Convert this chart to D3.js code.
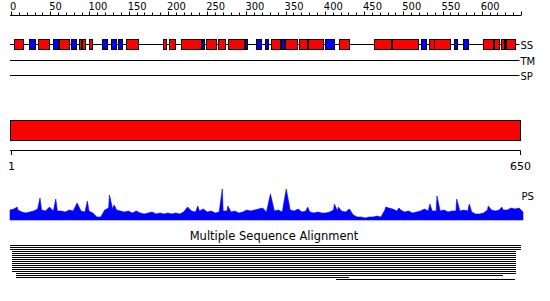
<!DOCTYPE html>
<html>
<head>
<meta charset="utf-8">
<script src="https://cdn.jsdelivr.net/npm/d3@7"></script>
<style>
body { margin: 0; background: #fff; }
svg { display: block; }
.axtxt { font-family: "Liberation Sans Narrow", "DejaVu Sans Condensed", sans-serif; font-size: 11px; }
.lbl { font-family: "DejaVu Sans", sans-serif; font-size: 10px; }
</style>
</head>
<body>
<div class="chart"></div>
<script>
const width = 550;
const height = 301;
const seqLength = 650;

// secondary structure elements: [start, end, type] H = helix, E = strand
const ssElements = [
	[4,16,"H"],[23,31,"E"],[34,48,"H"],[54,60,"E"],[61,74,"H"],[76,82,"E"],
	[87,90,"H"],[90,94,"H"],[100,104,"H"],[116,123,"E"],[127,133,"E"],[136,141,"E"],
	[147,162,"H"],[194,198,"H"],[202,210,"H"],[217,243,"H"],[243,245,"E"],
	[248,261,"H"],[264,273,"H"],[277,298,"H"],[298,300,"E"],[312,318,"E"],
	[324,328,"E"],[332,344,"H"],[344,348,"E"],[349,364,"H"],[367,377,"H"],
	[379,398,"H"],[400,412,"E"],[418,431,"H"],[463,485,"H"],[485,518,"H"],
	[522,528,"E"],[533,539,"H"],[539,560,"H"],[565,569,"E"],[576,583,"E"],
	[601,614,"H"],[616,622,"H"],[625,629,"H"],[629,631,"E"],[631,642,"H"]
];
const trackNames = ["SS", "TM", "SP"];
const domains = [[1, 650]];
const axisEnds = [1, 650];

// PS profile: background level every 5 residues (0..650) plus sharp peaks [residue, value]
const psStep = 5;
const psBase = [
	10,11,10,8,7,8,9,11,10,9,9,9,9,9,8,10,9,9,9,8,
	9,7,3,3,10,12,11,10,9,8,9,7,9,7,6,7,8,6,7,6,
	7,6,7,6,8,9,9,8,9,11,8,9,7,8,9,9,8,9,7,8,
	10,9,10,11,12,8,9,9,10,8,9,10,9,11,8,9,8,7,8,7,
	7,8,10,9,9,8,11,5,3,3,2,3,3,4,3,10,12,11,9,10,
	8,9,7,8,9,11,9,9,9,9,10,8,9,9,9,10,9,8,6,6,
	7,10,10,9,10,10,10,12,11,12,8
];
const psPeaks = [
	[9,13],[38,22],[50,13],[58,21],[85,17],[98,19],[126,25],[132,15],
	[225,13],[238,14],[269,31],[276,14],[330,26],[350,31],[377,13],
	[411,16],[416,13],[476,13],[493,12],[532,16],[541,24],[566,21],
	[582,16],[606,14],[623,13]
];

// alignment rows: [start, end]
const msaRows = [
	[0,650],[0,650],[0,650],[2,643],[2,643],[2,643],[2,643],[2,643],[2,643],
	[2,643],[2,643],[2,643],[2,643],[2,643],[7,643],[7,626],[7,430],[415,643]
];

const colors = {"H": "#ff0000", "E": "#0000ff"};

let svg = d3.select(".chart").append("svg")
	.attr("width", width)
	.attr("height", height);
svg.append("rect").attr("width", width).attr("height", height).attr("fill", "#fff");

let x = d3.scaleLinear().domain([0, seqLength]).range([11, 521]);

// top ruler
let ruler = svg.append("g").attr("class", "ruler");
ruler.append("line")
	.attr("x1", x(0) - 1).attr("x2", x(seqLength))
	.attr("y1", 15.5).attr("y2", 15.5)
	.attr("stroke", "#000");
let rticks = d3.range(0, seqLength + 1, 10);
ruler.selectAll(".rt").data(rticks).enter().append("line")
	.attr("x1", d => Math.round(x(d)) + 0.5).attr("x2", d => Math.round(x(d)) + 0.5)
	.attr("y1", 15.5).attr("y2", d => d % 50 == 0 ? 11.5 : 12.5)
	.attr("stroke", "#000");
ruler.selectAll(".rl").data(rticks.filter(d => d % 50 == 0 && d < seqLength)).enter().append("text")
	.attr("class", "axtxt")
	.attr("x", d => x(d) - 1)
	.attr("y", 10)
	.text(d => d);

// tracks
let trackY = {"SS": 44.5, "TM": 60.5, "SP": 75.5};
trackNames.forEach(t => {
	svg.append("line")
		.attr("x1", x(0) - 1).attr("x2", x(seqLength) - 1.5)
		.attr("y1", trackY[t]).attr("y2", trackY[t])
		.attr("stroke", "#000");
	svg.append("text")
		.attr("class", "lbl")
		.attr("x", x(seqLength) - 0.5)
		.attr("y", trackY[t] + 4)
		.text(t);
});

svg.selectAll(".ss").data(ssElements).enter().append("rect")
	.attr("x", d => Math.round(x(d[0])) + 0.5)
	.attr("y", 39.5)
	.attr("width", d => Math.max(1, Math.round(x(d[1]) - x(d[0]))))
	.attr("height", 10)
	.attr("fill", d => colors[d[2]])
	.attr("stroke", "#000");

// domain bar
let xb = d3.scaleLinear().domain(axisEnds).range([11, 520]);
svg.selectAll(".dom").data(domains).enter().append("rect")
	.attr("x", d => xb(d[0]) - 0.5)
	.attr("y", 120.5)
	.attr("width", d => xb(d[1]) - xb(d[0]) + 1)
	.attr("height", 20)
	.attr("fill", "#ff0000")
	.attr("stroke", "#000");

let bAxis = svg.append("g");
bAxis.append("line")
	.attr("x1", xb(axisEnds[0]) - 1).attr("x2", xb(axisEnds[1]) + 0.5)
	.attr("y1", 150.5).attr("y2", 150.5)
	.attr("stroke", "#000");
bAxis.selectAll(".bt").data(axisEnds).enter().append("line")
	.attr("x1", d => Math.round(xb(d)) + 0.5).attr("x2", d => Math.round(xb(d)) + 0.5)
	.attr("y1", 150.5).attr("y2", 155)
	.attr("stroke", "#000");
bAxis.selectAll(".bl").data(axisEnds).enter().append("text")
	.attr("x", d => xb(d) + 0.5)
	.attr("y", 170)
	.attr("text-anchor", "middle")
	.style("font-family", "DejaVu Sans, sans-serif")
	.style("font-size", "11px")
	.text(d => d);

// PS profile
let psPoints = psBase.map((v, i) => [i * psStep, v])
	.filter(p => !psPeaks.some(k => k[0] == p[0]))
	.concat(psPeaks)
	.sort((a, b) => a[0] - b[0]);
let xp = d3.scaleLinear().domain([0, seqLength]).range([10, 523]);
let yp = d3.scaleLinear().domain([0, 34]).range([220, 186]);
let area = d3.area()
	.x(d => xp(d[0]))
	.y0(220)
	.y1(d => yp(d[1]));
svg.append("path")
	.datum(psPoints)
	.attr("d", area)
	.attr("fill", "#0000ff")
	.attr("stroke", "#0000ff")
	.attr("stroke-width", 0.6);
svg.append("text")
	.attr("class", "lbl")
	.attr("x", 521.5)
	.attr("y", 200)
	.text("PS");

// multiple sequence alignment
svg.append("text")
	.attr("x", 274)
	.attr("y", 240)
	.attr("text-anchor", "middle")
	.style("font-family", "DejaVu Sans, sans-serif")
	.style("font-size", "11.5px")
	.text("Multiple Sequence Alignment");
let xm = d3.scaleLinear().domain([0, seqLength]).range([10, 521]);
svg.selectAll(".msa").data(msaRows).enter().append("rect")
	.attr("x", d => Math.round(xm(d[0])))
	.attr("y", (d, i) => 245 + i * 2)
	.attr("width", d => Math.round(xm(d[1]) - xm(d[0])))
	.attr("height", 1)
	.attr("fill", "#000");
</script>
</body>
</html>
